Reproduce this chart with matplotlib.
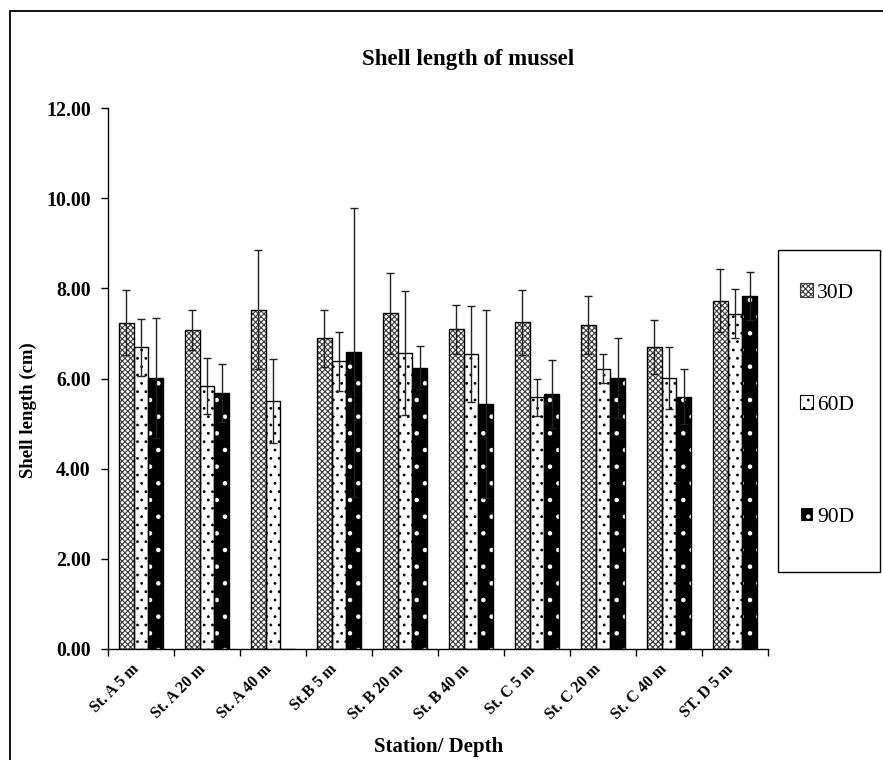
import numpy as np
import matplotlib
matplotlib.use("Agg")
import matplotlib.pyplot as plt
import matplotlib.transforms as mtransforms
from matplotlib.patches import Rectangle
from matplotlib.ticker import FormatStrFormatter

plt.rcParams['font.family'] = ['Liberation Serif', 'DejaVu Serif']
plt.rcParams['hatch.linewidth'] = 0.8

stations = ["St. A 5 m", "St. A 20 m", "St. A 40 m", "St.B 5 m", "St. B 20 m",
            "St. B 40 m", "St. C 5 m", "St. C 20 m", "St. C 40 m", "ST. D 5 m"]
series = ["30D", "60D", "90D"]

# mean shell length (cm) and standard deviation
d30 = [7.24, 7.07, 7.53, 6.89, 7.45, 7.09, 7.25, 7.19, 6.70, 7.73]
sd30 = [0.72, 0.44, 1.33, 0.64, 0.90, 0.55, 0.72, 0.64, 0.60, 0.69]
d60 = [6.69, 5.84, 5.50, 6.38, 6.56, 6.54, 5.58, 6.22, 6.01, 7.44]
sd60 = [0.64, 0.62, 0.94, 0.65, 1.37, 1.07, 0.41, 0.33, 0.68, 0.55]
d90 = [6.02, 5.68, 0.00, 6.58, 6.24, 5.43, 5.65, 6.01, 5.60, 7.83]
sd90 = [1.33, 0.65, 0.00, 3.20, 0.48, 2.09, 0.75, 0.89, 0.60, 0.53]

W, H = 883, 760
fig = plt.figure(figsize=(W / 100, H / 100), dpi=100)
ax = fig.add_axes([108 / W, 1 - 649 / H, 660 / W, 541 / H])

x = np.arange(len(stations))
w = 0.227
styles = [
    dict(facecolor="white", edgecolor="#3a3a3a", hatch="xxxxxx"),
    dict(facecolor="white", edgecolor="black", hatch=".."),
    dict(facecolor="black", edgecolor="white", hatch="."),
]

handles = []
for i, (vals, sds, st) in enumerate(zip([d30, d60, d90], [sd30, sd60, sd90], styles)):
    pos = x + (i - 1) * w
    vals = np.array(vals)
    sds = np.array(sds)
    b = ax.bar(pos, vals, w, linewidth=0, label=series[i], zorder=2, **st)
    ax.bar(pos, vals, w, fill=False, edgecolor="black", linewidth=1.0, zorder=2.5)
    keep = sds > 0
    ax.errorbar(pos[keep], vals[keep], yerr=sds[keep], fmt="none", ecolor="#222222",
                elinewidth=1.0, capsize=3, capthick=1.0, zorder=3)
    handles.append(b)

ax.set_xlim(-0.5, len(stations) - 0.5)
ax.set_ylim(0, 12)
ax.set_yticks(np.arange(0, 13, 2))
ax.yaxis.set_major_formatter(FormatStrFormatter("%.2f"))
ax.tick_params(axis="y", direction="out", length=5, width=1, labelsize=14.3, pad=7.5)
for lab in ax.get_yticklabels():
    lab.set_fontweight("bold")

ax.set_xticks(x)
ax.set_xticklabels(stations, rotation=45, ha="right", va="center",
                   rotation_mode="anchor", fontsize=11.5, fontweight="bold")
ax.set_xticks(np.arange(-0.5, len(stations), 1), minor=True)
ax.tick_params(axis="x", which="major", length=0, pad=13)
ax.tick_params(axis="x", which="minor", direction="out", length=5, width=1)
shift = mtransforms.ScaledTranslation(-4 / 100, 0, fig.dpi_scale_trans)
for lab in ax.get_xticklabels():
    lab.set_transform(lab.get_transform() + shift)

for s in ["top", "right"]:
    ax.spines[s].set_visible(False)
for s in ["left", "bottom"]:
    ax.spines[s].set_linewidth(1.0)

fig.text(468 / W, 1 - 60 / H, "Shell length of mussel", ha="center", va="center",
         fontsize=16.5, fontweight="bold")
fig.text(28 / W, 1 - 410 / H, "Shell length (cm)", ha="center", va="center",
         rotation=90, fontsize=13.5, fontweight="bold")
fig.text(439 / W, 1 - 747 / H, "Station/ Depth", ha="center", va="center",
         fontsize=15, fontweight="bold")

# legend box
fig.add_artist(Rectangle((778 / W, 1 - 572 / H), 102 / W, 322 / H, transform=fig.transFigure,
                         fill=False, edgecolor="black", linewidth=1.0))
leg = fig.legend(handles, series, loc="center left", bbox_to_anchor=(800 / W, 1 - 405 / H),
                 frameon=False, borderaxespad=0, borderpad=0,
                 prop={"family": "Liberation Serif", "size": 15.5},
                 labelspacing=4.3, handlelength=0.6, handleheight=0.6,
                 handletextpad=0.2)
for hnd in leg.legend_handles:
    hnd.set_linewidth(0.8)

# page frame around the chart
fig.add_artist(Rectangle((10 / W, -0.5), 2, 1 - 11 / H + 0.5, transform=fig.transFigure,
                         fill=False, edgecolor="black", linewidth=1.3))

fig.savefig("out.png", dpi=100)
